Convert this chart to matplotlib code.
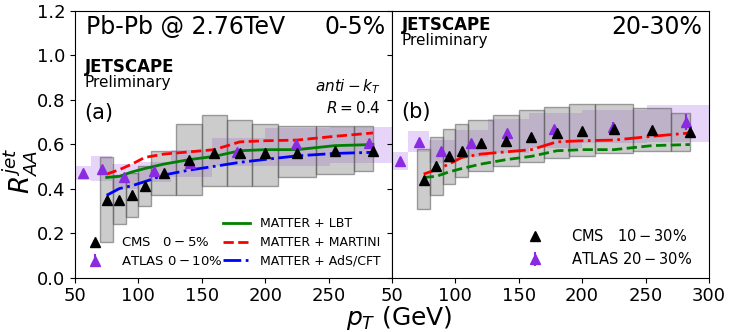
import matplotlib
matplotlib.use("Agg")
import matplotlib.pyplot as plt

# CMS points (shared pT binning for both centralities)
cms_pt = [75, 85, 95, 105, 120, 140, 160, 180, 200, 225, 255, 285]
cms_lo_edge = [70, 80, 90, 100, 110, 130, 150, 170, 190, 210, 240, 270]
cms_hi_edge = [80, 90, 100, 110, 130, 150, 170, 190, 210, 240, 270, 285]

cms_0_5 = [0.35, 0.35, 0.37, 0.41, 0.47, 0.53, 0.56, 0.56, 0.56, 0.56, 0.57, 0.57]
cms_0_5_lo = [0.16, 0.24, 0.27, 0.32, 0.37, 0.37, 0.41, 0.41, 0.41, 0.45, 0.465, 0.48]
cms_0_5_hi = [0.54, 0.46, 0.47, 0.50, 0.57, 0.69, 0.73, 0.71, 0.69, 0.68, 0.68, 0.68]

cms_10_30 = [0.44, 0.50, 0.545, 0.57, 0.605, 0.613, 0.633, 0.65, 0.66, 0.67, 0.665, 0.655]
cms_10_30_lo = [0.31, 0.37, 0.42, 0.45, 0.48, 0.50, 0.518, 0.536, 0.548, 0.561, 0.569, 0.57]
cms_10_30_hi = [0.576, 0.633, 0.666, 0.69, 0.708, 0.73, 0.753, 0.768, 0.778, 0.778, 0.763, 0.742]

# ATLAS points
atlas_pt = [56, 71, 89, 112, 141, 178, 224, 282]
atlas_lo_edge = [50, 63, 79, 100, 126, 158, 200, 251]
atlas_hi_edge = [63, 79, 100, 126, 158, 200, 251, 316]

atlas_0_10 = [0.47, 0.49, 0.453, 0.479, 0.513, 0.564, 0.599, 0.603]
atlas_0_10_stat = [0.01, 0.01, 0.01, 0.01, 0.01, 0.012, 0.015, 0.02]
atlas_0_10_lo = [0.438, 0.435, 0.40, 0.43, 0.453, 0.50, 0.50, 0.513]
atlas_0_10_hi = [0.501, 0.546, 0.51, 0.52, 0.573, 0.628, 0.673, 0.678]

atlas_20_30 = [0.525, 0.61, 0.569, 0.603, 0.648, 0.667, 0.678, 0.70]
atlas_20_30_stat = [0.01, 0.01, 0.01, 0.01, 0.012, 0.015, 0.02, 0.035]
atlas_20_30_lo = [0.483, 0.565, 0.513, 0.543, 0.558, 0.581, 0.603, 0.61]
atlas_20_30_hi = [0.565, 0.66, 0.618, 0.663, 0.711, 0.738, 0.753, 0.775]

# JETSCAPE model curves, evaluated at the CMS bin centres
lbt = [0.45, 0.455, 0.475, 0.49, 0.51, 0.53, 0.545, 0.57, 0.575, 0.575, 0.593, 0.598]
martini = [0.465, 0.485, 0.51, 0.54, 0.555, 0.565, 0.575, 0.61, 0.615, 0.618, 0.635, 0.65]
ads = [0.37, 0.40, 0.413, 0.431, 0.461, 0.483, 0.50, 0.518, 0.531, 0.547, 0.558, 0.563]

purple = "#8a2be2"

fig = plt.figure(figsize=(7.47, 3.32), dpi=100)
ax1 = fig.add_axes([0.1004, 0.164, 0.4243, 0.804])
ax2 = fig.add_axes([0.5247, 0.164, 0.4243, 0.804], sharey=ax1)


def boxes(ax, lo_e, hi_e, lo, hi, **kw):
    w = [h - l for l, h in zip(lo_e, hi_e)]
    hgt = [h - l for l, h in zip(lo, hi)]
    ax.bar(lo_e, hgt, width=w, bottom=lo, align="edge", **kw)


def panel(ax, cms_lo, cms_hi, atl_lo, atl_hi):
    boxes(ax, atlas_lo_edge, atlas_hi_edge, atl_lo, atl_hi,
          color=purple, alpha=0.2, linewidth=0, zorder=1)
    boxes(ax, cms_lo_edge, cms_hi_edge, cms_lo, cms_hi,
          facecolor=(0.5, 0.5, 0.5, 0.4), edgecolor=(0.3, 0.3, 0.3, 0.5),
          linewidth=1, zorder=2)


panel(ax1, cms_0_5_lo, cms_0_5_hi, atlas_0_10_lo, atlas_0_10_hi)
panel(ax2, cms_10_30_lo, cms_10_30_hi, atlas_20_30_lo, atlas_20_30_hi)

# model lines, panel (a)
l1, = ax1.plot(cms_pt, lbt, color="green", lw=2, ls="-", zorder=3, label="MATTER + LBT")
l2, = ax1.plot(cms_pt, martini, color="red", lw=2, ls="--", zorder=3, label="MATTER + MARTINI")
l3, = ax1.plot(cms_pt, ads, color="blue", lw=2, ls="-.", zorder=3, label="MATTER + AdS/CFT")
# panel (b)
ax2.plot(cms_pt, martini, color="red", lw=2, ls="-.", zorder=3)
ax2.plot(cms_pt, lbt, color="green", lw=2, ls="--", zorder=3)

# data markers
c1, = ax1.plot(cms_pt, cms_0_5, "^", color="k", ms=7, ls="none", zorder=5,
               label=r"CMS   $0-5\%$")
a1 = ax1.errorbar(atlas_pt, atlas_0_10, yerr=atlas_0_10_stat, fmt="^", color=purple,
                  ms=7, zorder=4, label=r"ATLAS $0-10\%$")
c2, = ax2.plot(cms_pt, cms_10_30, "^", color="k", ms=7, ls="none", zorder=5,
               label=r"CMS   $10-30\%$")
a2 = ax2.errorbar(atlas_pt, atlas_20_30, yerr=atlas_20_30_stat, fmt="^", color=purple,
                  ms=7, zorder=4, label=r"ATLAS $20-30\%$")

leg_data = ax1.legend(handles=[c1, a1], loc="lower left", bbox_to_anchor=(-0.005, -0.01),
                      frameon=False, fontsize=9.5, handlelength=1.5, handletextpad=1.2,
                      labelspacing=0.45)
ax1.add_artist(leg_data)
ax1.legend(handles=[l1, l2, l3], loc="lower right", bbox_to_anchor=(1.0, -0.005),
           frameon=False, fontsize=9, handlelength=2.2, handletextpad=0.8,
           labelspacing=0.45)
ax2.legend(handles=[c2, a2], loc="lower right", bbox_to_anchor=(0.99, -0.01),
           frameon=False, fontsize=10.5, handletextpad=1.5)

for ax in (ax1, ax2):
    ax.set_xlim(50, 300)
    ax.set_ylim(0, 1.2)
    ax.tick_params(labelsize=13)
ax1.set_xticks([50, 100, 150, 200, 250])
ax2.set_xticks([50, 100, 150, 200, 250, 300])
ax1.set_yticks([0, 0.2, 0.4, 0.6, 0.8, 1.0, 1.2])
ax2.tick_params(labelleft=False)

ax1.set_ylabel(r"$R^{jet}_{AA}$", fontsize=19)
ax1.yaxis.set_label_coords(-0.11, 0.40)
fig.text(0.535, 0.0, r"$p_T$ (GeV)", fontsize=18, ha="center", va="bottom")

# annotations, panel (a)
ax1.text(0.035, 0.94, "Pb-Pb @ 2.76TeV", transform=ax1.transAxes, fontsize=17, va="center")
ax1.text(0.98, 0.94, "0-5%", transform=ax1.transAxes, fontsize=17, va="center", ha="right")
ax1.text(0.03, 0.79, "JETSCAPE", transform=ax1.transAxes, fontsize=12, weight="bold", va="center")
ax1.text(0.03, 0.73, "Preliminary", transform=ax1.transAxes, fontsize=11, va="center")
ax1.text(0.03, 0.615, "(a)", transform=ax1.transAxes, fontsize=15, va="center")
ax1.text(0.965, 0.715, r"$anti-k_T$", transform=ax1.transAxes, fontsize=11, va="center", ha="right")
ax1.text(0.965, 0.635, r"$R=0.4$", transform=ax1.transAxes, fontsize=11, va="center", ha="right")

# annotations, panel (b)
ax2.text(0.03, 0.945, "JETSCAPE", transform=ax2.transAxes, fontsize=12, weight="bold", va="center")
ax2.text(0.03, 0.887, "Preliminary", transform=ax2.transAxes, fontsize=11, va="center")
ax2.text(0.98, 0.94, "20-30%", transform=ax2.transAxes, fontsize=17, va="center", ha="right")
ax2.text(0.03, 0.62, "(b)", transform=ax2.transAxes, fontsize=15, va="center")

fig.savefig("out.png", dpi=100)
